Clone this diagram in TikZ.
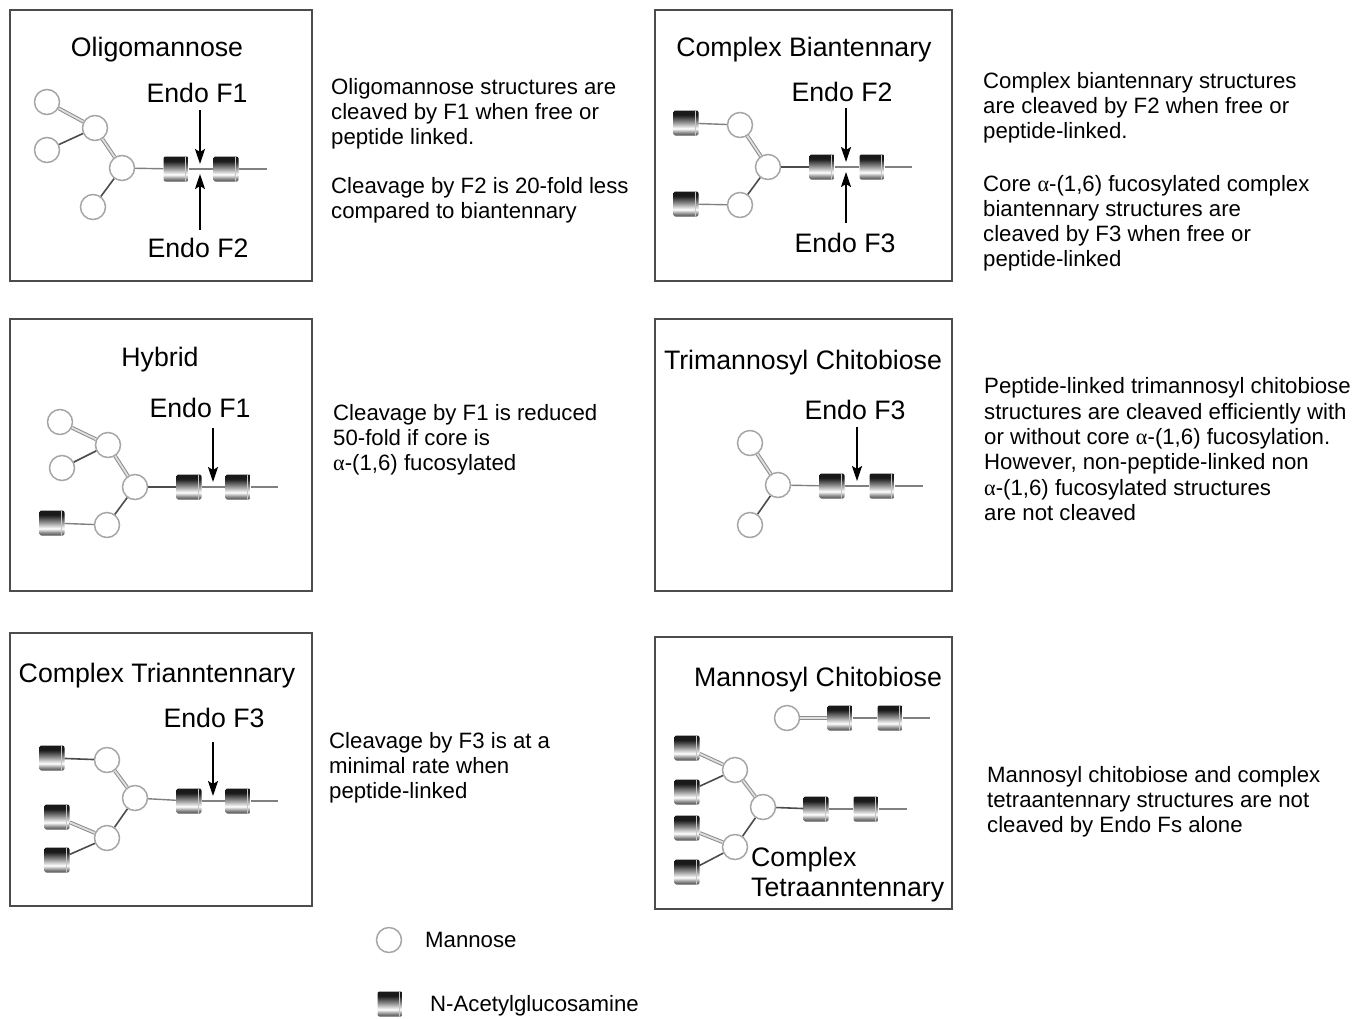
\documentclass[tikz,border=0pt]{standalone}
\usepackage{fontspec}
\setmainfont{Liberation Sans}
\newfontfamily\symfont{Liberation Serif}
\usetikzlibrary{arrows.meta}
\pgfdeclareverticalshading{glcshade}{100bp}{color(0bp)=(black!70); color(25bp)=(black!70); color(31bp)=(black!45); color(39bp)=(white); color(52bp)=(black!45); color(66bp)=(black!90); color(100bp)=(black!90)}
\newcommand{\alp}{{\symfont α}}
\tikzset{
  man/.style={circle, draw=black!35, line width=1.5pt, fill=white, minimum size=25pt, inner sep=0pt},
  glc/.style={rectangle, rounded corners=2pt, minimum width=25pt, minimum height=25pt, inner sep=0pt, shading=glcshade,
    path picture={\draw[black!22, line width=1.6pt] ([xshift=-3pt]path picture bounding box.north east) -- ([xshift=-3pt]path picture bounding box.south east);}},
  dbl/.style={draw=black!45, double=black!12, double distance=1.8pt, line width=1pt},
  sgl/.style={draw=black!70, line width=1.6pt},
  stem/.style={draw=black!50, line width=1.4pt},
  cut/.style={-{Stealth[length=15pt,width=10pt,inset=3pt]}, line width=2pt, draw=black},
  frame/.style={draw=black!70, line width=1.2pt},
  lbl/.style={font=\fontsize{26.7}{30}\selectfont, anchor=base, inner sep=0pt},
  txt/.style={font=\fontsize{22.2}{25}\selectfont, align=left, anchor=north west, inner sep=0pt},
}
\begin{document}
\begin{tikzpicture}[x=1pt,y=-1pt]
\useasboundingbox (0,0) rectangle (1364,1018);
\fill[white] (0,0) rectangle (1364,1018);

% frames
\draw[frame] (10,10) rectangle (312,281);
\draw[frame] (655,10) rectangle (952,281);
\draw[frame] (10,319) rectangle (312,591);
\draw[frame] (655,319) rectangle (952,591);
\draw[frame] (10,633) rectangle (312,906);
\draw[frame] (655,637) rectangle (952,909);

% ---------- Box 1: Oligomannose
\node[lbl] (t1) at (157,56) {Oligomannose};
\node[man] (a1) at (47,102) {};
\node[man] (a2) at (95,128) {};
\node[man] (a3) at (47,150) {};
\node[man] (a4) at (122,168) {};
\node[man] (a5) at (93,207) {};
\node[glc] (ag1) at (176,169) {};
\node[glc] (ag2) at (226,169) {};
\coordinate (ae) at (267,169);
\draw[dbl] (a1) -- (a2);
\draw[sgl] (a3) -- (a2);
\draw[dbl] (a2) -- (a4);
\draw[sgl] (a4) -- (a5);
\draw[stem] (a4) -- (ag1);
\draw[stem] (ag1) -- (ag2);
\draw[stem] (ag2) -- (ae);
\node[lbl] (al1) at (197,102) {Endo F1};
\node[lbl] (al2) at (198,257) {Endo F2};
\coordinate (aa1) at (200,110); \coordinate (ab1) at (200,164);
\coordinate (aa2) at (200,230); \coordinate (ab2) at (200,174);
\draw[cut] (aa1) -- (ab1);
\draw[cut] (aa2) -- (ab2);
\node[txt] (x1) at (331,78) {Oligomannose structures are\\cleaved by F1 when free or\\peptide linked.};
\node[txt] (x1b) at (331,177) {Cleavage by F2 is 20-fold less\\compared to biantennary};

% ---------- Box 2: Complex Biantennary
\node[lbl] (t2) at (804,56) {Complex Biantennary};
\node[glc] (bg3) at (686,123) {};
\node[man] (b1) at (740,125) {};
\node[man] (b2) at (768,167) {};
\node[man] (b3) at (740,205) {};
\node[glc] (bg4) at (686,204) {};
\node[glc] (bg1) at (822,167) {};
\node[glc] (bg2) at (872,167) {};
\coordinate (be) at (912,167);
\draw[stem] (bg3) -- (b1);
\draw[dbl] (b1) -- (b2);
\draw[sgl] (b2) -- (b3);
\draw[stem] (b3) -- (bg4);
\draw[sgl] (b2) -- (bg1);
\draw[stem] (bg1) -- (bg2);
\draw[stem] (bg2) -- (be);
\node[lbl] (bl1) at (842,101) {Endo F2};
\node[lbl] (bl2) at (845,252) {Endo F3};
\coordinate (ba1) at (846,108); \coordinate (bb1) at (846,162);
\coordinate (ba2) at (846,223); \coordinate (bb2) at (846,172);
\draw[cut] (ba1) -- (bb1);
\draw[cut] (ba2) -- (bb2);
\node[txt] (x2) at (983,72.5) {Complex biantennary structures\\are cleaved by F2 when free or\\peptide-linked.};
\node[txt] (x2b) at (983,175.5) {Core \alp-(1,6) fucosylated complex\\biantennary structures are\\cleaved by F3 when free or\\peptide-linked};

% ---------- Box 3: Hybrid
\node[lbl] (t3) at (160,366) {Hybrid};
\node[man] (c1) at (60,422) {};
\node[man] (c2) at (108,445) {};
\node[man] (c3) at (62,468) {};
\node[man] (c4) at (135,487) {};
\node[man] (c5) at (107,525) {};
\node[glc] (cg3) at (52,523) {};
\node[glc] (cg1) at (189,487) {};
\node[glc] (cg2) at (238,487) {};
\coordinate (ce) at (278,487);
\draw[dbl] (c1) -- (c2);
\draw[sgl] (c3) -- (c2);
\draw[dbl] (c2) -- (c4);
\draw[sgl] (c4) -- (c5);
\draw[stem] (c5) -- (cg3);
\draw[sgl] (c4) -- (cg1);
\draw[stem] (cg1) -- (cg2);
\draw[stem] (cg2) -- (ce);
\node[lbl] (cl1) at (200,417) {Endo F1};
\coordinate (ca1) at (213,428); \coordinate (cb1) at (213,482);
\draw[cut] (ca1) -- (cb1);
\node[txt] (x3) at (333,404.5) {Cleavage by F1 is reduced\\50-fold if core is\\\alp-(1,6) fucosylated};

% ---------- Box 4: Trimannosyl Chitobiose
\node[lbl] (t4) at (803,369) {Trimannosyl Chitobiose};
\node[man] (d1) at (750,443) {};
\node[man] (d2) at (778,485) {};
\node[man] (d3) at (750,525) {};
\node[glc] (dg1) at (832,486) {};
\node[glc] (dg2) at (882,486) {};
\coordinate (de) at (923,486);
\draw[dbl] (d1) -- (d2);
\draw[sgl] (d2) -- (d3);
\draw[stem] (d2) -- (dg1);
\draw[stem] (dg1) -- (dg2);
\draw[stem] (dg2) -- (de);
\node[lbl] (dl1) at (855,419) {Endo F3};
\coordinate (da1) at (857,427); \coordinate (db1) at (857,481);
\draw[cut] (da1) -- (db1);
\node[txt, font=\fontsize{22.2}{25.4}\selectfont] (x4) at (984,377.5) {Peptide-linked trimannosyl chitobiose\\structures are cleaved efficiently with\\or without core \alp-(1,6) fucosylation.\\However, non-peptide-linked non\\\alp-(1,6) fucosylated structures\\are not cleaved};

% ---------- Box 5: Complex Trianntennary
\node[lbl] (t5) at (157,682) {Complex Trianntennary};
\node[glc] (eg3) at (52,758) {};
\node[man] (e1) at (107,760) {};
\node[man] (e2) at (135,798) {};
\node[man] (e3) at (107,838) {};
\node[glc] (eg4) at (57,817) {};
\node[glc] (eg5) at (57,860) {};
\node[glc] (eg1) at (189,801) {};
\node[glc] (eg2) at (238,801) {};
\coordinate (ee) at (278,801);
\draw[sgl] (eg3) -- (e1);
\draw[dbl] (e1) -- (e2);
\draw[sgl] (e2) -- (e3);
\draw[dbl] (eg4) -- (e3);
\draw[sgl] (eg5) -- (e3);
\draw[stem] (e2) -- (eg1);
\draw[stem] (eg1) -- (eg2);
\draw[stem] (eg2) -- (ee);
\node[lbl] (el1) at (214,727) {Endo F3};
\coordinate (ea1) at (213,742); \coordinate (eb1) at (213,796);
\draw[cut] (ea1) -- (eb1);
\node[txt] (x5) at (329,732.5) {Cleavage by F3 is at a\\minimal rate when\\peptide-linked};

% ---------- Box 6: Mannosyl Chitobiose
\node[lbl] (t6) at (818,686) {Mannosyl Chitobiose};
\node[man] (f0) at (787,718) {};
\node[glc] (fa) at (840,718) {};
\node[glc] (fb) at (890,718) {};
\coordinate (fe0) at (930,718);
\draw[dbl] (f0) -- (fa);
\draw[stem] (fa) -- (fb);
\draw[stem] (fb) -- (fe0);
\node[glc] (fl1) at (687,748) {};
\node[glc] (fl2) at (687,792) {};
\node[glc] (fl3) at (687,828) {};
\node[glc] (fl4) at (687,872) {};
\node[man] (f1) at (735,770) {};
\node[man] (f2) at (763,807) {};
\node[man] (f3) at (735,847) {};
\node[glc] (fg1) at (816,809) {};
\node[glc] (fg2) at (866,809) {};
\coordinate (fe) at (907,809);
\draw[dbl] (fl1) -- (f1);
\draw[sgl] (fl2) -- (f1);
\draw[dbl] (f1) -- (f2);
\draw[sgl] (f2) -- (f3);
\draw[dbl] (fl3) -- (f3);
\draw[sgl] (fl4) -- (f3);
\draw[sgl] (f2) -- (fg1);
\draw[stem] (fg1) -- (fg2);
\draw[stem] (fg2) -- (fe);
\node[lbl, anchor=base west] (fl5) at (751,866) {Complex};
\node[lbl, anchor=base west] (fl6) at (751,896) {Tetraanntennary};
\node[txt] (x6) at (987,766.5) {Mannosyl chitobiose and complex\\tetraantennary structures are not\\cleaved by Endo Fs alone};

% ---------- Legend
\node[man] (lm) at (389,940) {};
\node[txt, anchor=west] (lmt) at (425,940) {Mannose};
\node[glc] (lg) at (390,1004) {};
\node[txt, anchor=west] (lgt) at (430,1006) {N-Acetylglucosamine};
\end{tikzpicture}
\end{document}
